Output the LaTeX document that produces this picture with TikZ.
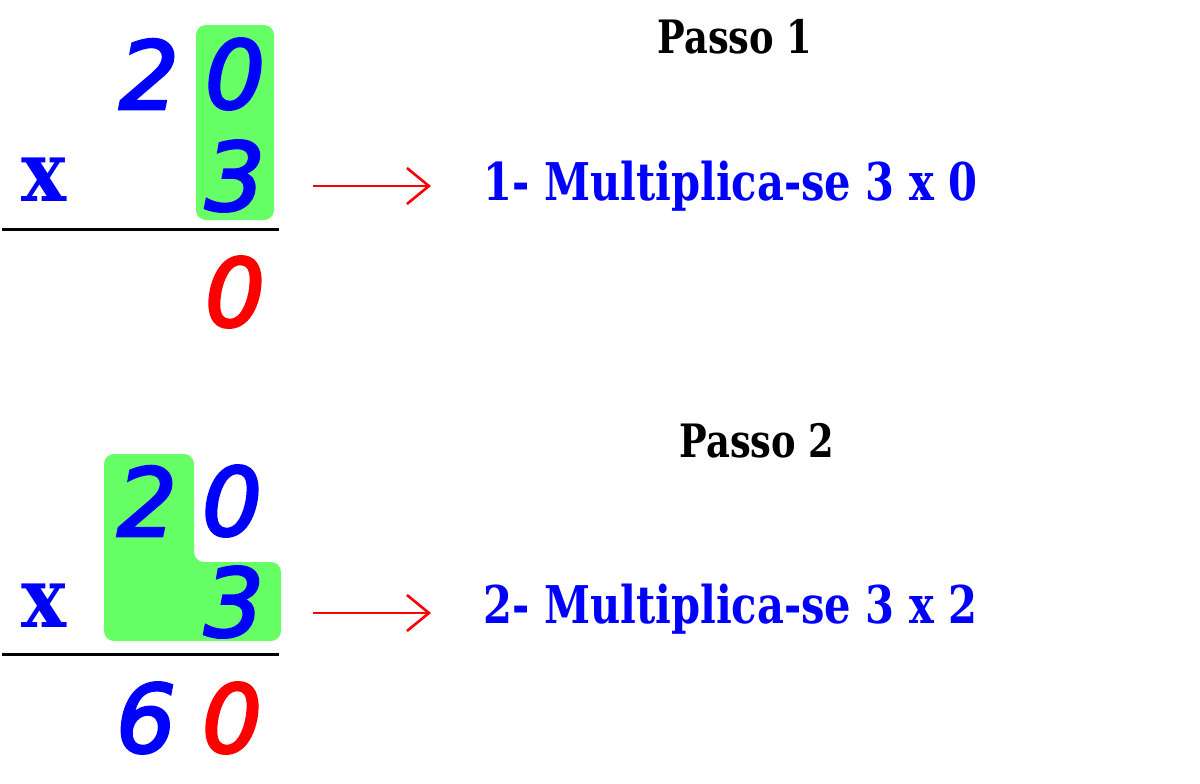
\documentclass[tikz,border=0pt]{standalone}
\usepackage{fontspec}
\usetikzlibrary{arrows.meta}
\newfontfamily\digitos{DejaVu Sans}[FakeBold=3]
\newfontfamily\vezes{DejaVu Serif}[FakeStretch=0.9]
\newfontfamily\texto{DejaVu Serif}[FakeStretch=0.8]
\definecolor{verde}{RGB}{102,255,102}
\tikzset{
    digito/.style={inner sep=0pt, font=\digitos\itshape\fontsize{47}{50}\selectfont},
    sinal/.style={inner sep=0pt, blue, font=\vezes\bfseries\fontsize{42}{50}\selectfont},
    titulo/.style={inner sep=0pt, anchor=base, font=\texto\bfseries\fontsize{23}{27}\selectfont},
    passo/.style={inner sep=0pt, anchor=base west, blue, font=\texto\bfseries\fontsize{26}{30}\selectfont},
    seta/.style={red, line width=1.3pt, -{Straight Barb[length=11pt,width=18pt]}}
}
\begin{document}
\begin{tikzpicture}[x=0.5pt, y=-0.5pt]
    \useasboundingbox (0,0) rectangle (1200,783);

    % Passo 1
    \fill[verde, rounded corners=5pt] (196,25) rectangle (274,220);
    \node[digito, blue] (a2) at (149,74) {2};
    \node[digito, blue] (a0) at (235,74) {0};
    \node[sinal] (ax) at (44,180) {x};
    \node[digito, blue] (a3) at (235,176) {3};
    \draw[line width=1.5pt] (2,229) -- (279,229);
    \node[digito, red] (ar) at (235,292) {0};
    \node[titulo] (t1) at (735,53) {Passo 1};
    \node[passo] (p1) at (483,200) {1- Multiplica-se 3 x 0};
    \coordinate (s1a) at (313,186);
    \coordinate (s1b) at (431,186);
    \draw[seta] (s1a) -- (s1b);

    % Passo 2
    \fill[verde, rounded corners=5pt] (104,454) -- (194,454) -- (194,562)
        -- (281,562) -- (281,641) -- (104,641) -- cycle;
    \node[digito, blue] (b2) at (147,501) {2};
    \node[digito, blue] (b0) at (232,501) {0};
    \node[sinal] (bx) at (44,606) {x};
    \node[digito, blue] (b3) at (234,602) {3};
    \draw[line width=1.5pt] (2,654) -- (279,654);
    \node[digito, blue] (b6) at (146,718) {6};
    \node[digito, red] (br) at (232,718) {0};
    \node[titulo] (t2) at (757,457) {Passo 2};
    \node[passo] (p2) at (483,623) {2- Multiplica-se 3 x 2};
    \coordinate (s2a) at (313,613);
    \coordinate (s2b) at (431,613);
    \draw[seta] (s2a) -- (s2b);
\end{tikzpicture}
\end{document}
